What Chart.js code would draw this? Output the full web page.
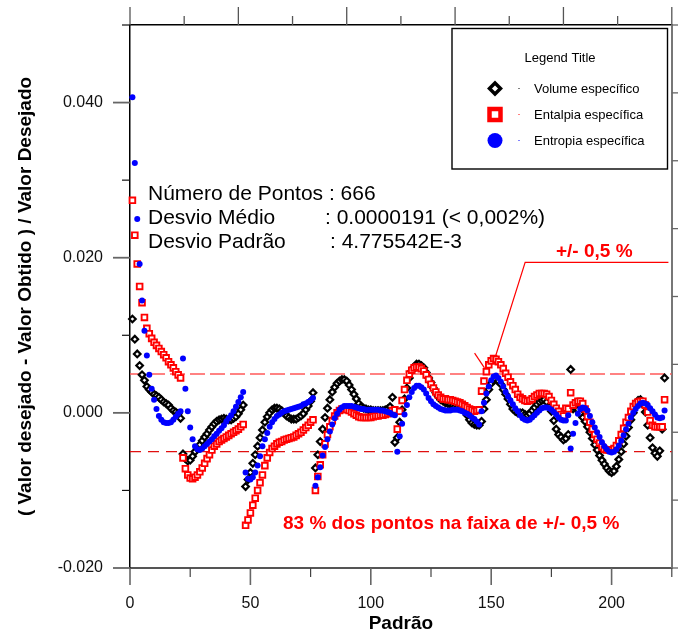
<!DOCTYPE html>
<html>
<head>
<meta charset="utf-8">
<title>Desvio relativo por padrão</title>
<script src="https://cdn.jsdelivr.net/npm/chart.js@4.4.0/dist/chart.umd.min.js"></script>
<style>
  html, body { margin: 0; padding: 0; background: #ffffff; }
  #wrap { width: 678px; height: 637px; position: relative; }
</style>
</head>
<body>
<div id="wrap"><canvas id="desvioChart"></canvas></div>
<script>
// Tick values for the axes
const padraoTicks = [0, 50, 100, 150, 200];
const padraoMinorTicks = [25, 75, 125, 175, 225];
const desvioTicks = [-0.02, 0, 0.02, 0.04];
const desvioMinorTicks = [-0.01, 0.01, 0.03, 0.05];
const topoTicks = [0, 1, 2, 3, 4, 5, 6, 7, 8, 9, 10];
const direitaTicks = [0, 1, 2, 3, 4, 5, 6, 7, 8];

// +/- 0,5 % band
const faixaX = [0, 225];
const faixaSup = 0.005;
const faixaInf = -0.005;

// Deviation per point (Padrão 1..222)
const volume = [
  0.0121, 0.0095, 0.0076, 0.0061, 0.0049, 0.0042, 0.0034, 0.0030, 0.0027, 0.0024,
  0.0022, 0.0020, 0.0017, 0.0014, 0.0012, 0.0010, 0.0006, 0.0003, 0.0001, -0.0001,
  -0.0007, -0.0053, -0.0059, -0.0062, -0.0061, -0.0056, -0.0050, -0.0046, -0.0041, -0.0036,
  -0.0031, -0.0027, -0.0022, -0.0018, -0.0014, -0.0011, -0.0009, -0.0008, -0.0007, -0.0008,
  -0.0009, -0.0009, -0.0007, -0.0005, -0.0001, 0.0004, 0.0010, -0.0095, -0.0086, -0.0077,
  -0.0065, -0.0054, -0.0043, -0.0032, -0.0022, -0.0012, -0.0005, 0.0000, 0.0004, 0.0006,
  0.0006, 0.0005, 0.0003, 0.0000, -0.0004, -0.0006, -0.0008, -0.0008, -0.0008, -0.0006,
  -0.0004, -0.0001, 0.0004, 0.0009, 0.0015, 0.0026, -0.0071, -0.0054, -0.0037, -0.0021,
  -0.0006, 0.0006, 0.0017, 0.0027, 0.0033, 0.0038, 0.0041, 0.0043, 0.0043, 0.0041,
  0.0036, 0.0030, 0.0024, 0.0018, 0.0012, 0.0008, 0.0006, 0.0005, 0.0004, 0.0004,
  0.0003, 0.0003, 0.0003, 0.0003, 0.0003, 0.0004, 0.0005, 0.0008, 0.0020, -0.0038,
  -0.0032, -0.0012, 0.0004, 0.0018, 0.0032, 0.0045, 0.0054, 0.0059, 0.0063, 0.0063,
  0.0061, 0.0058, 0.0052, 0.0045, 0.0039, 0.0032, 0.0026, 0.0021, 0.0017, 0.0015,
  0.0013, 0.0012, 0.0011, 0.0009, 0.0008, 0.0007, 0.0006, 0.0005, 0.0002, -0.0003,
  -0.0009, -0.0013, -0.0015, -0.0016, -0.0016, -0.0011, 0.0005, 0.0017, 0.0030, 0.0038,
  0.0042, 0.0043, 0.0041, 0.0037, 0.0030, 0.0024, 0.0018, 0.0011, 0.0005, 0.0002,
  0.0000, 0.0000, 0.0000, -0.0002, -0.0003, -0.0001, 0.0003, 0.0007, 0.0011, 0.0014,
  0.0016, 0.0017, 0.0014, 0.0008, 0.0002, -0.0010, -0.0021, -0.0028, -0.0031, -0.0035,
  -0.0033, -0.0028, 0.0056, 0.0005, 0.0006, 0.0004, -0.0001, -0.0006, -0.0011, -0.0018,
  -0.0025, -0.0033, -0.0041, -0.0048, -0.0055, -0.0061, -0.0066, -0.0071, -0.0075, -0.0077,
  -0.0075, -0.0069, -0.0060, -0.0050, -0.0040, -0.0030, -0.0019, -0.0009, 0.0000, 0.0009,
  0.0016, 0.0017, 0.0011, 0.0001, -0.0016, -0.0032, -0.0045, -0.0052, -0.0056, -0.0049,
  -0.0021, 0.0045
];

const entalpia = [
  0.0274, 0.0229, 0.0192, 0.0163, 0.0142, 0.0123, 0.0109, 0.0102, 0.0096, 0.0091,
  0.0087, 0.0083, 0.0079, 0.0075, 0.0071, 0.0066, 0.0062, 0.0058, 0.0053, 0.0049,
  0.0045, -0.0058, -0.0072, -0.0080, -0.0084, -0.0085, -0.0083, -0.0080, -0.0076, -0.0071,
  -0.0065, -0.0059, -0.0054, -0.0048, -0.0043, -0.0040, -0.0037, -0.0035, -0.0033, -0.0031,
  -0.0029, -0.0027, -0.0025, -0.0023, -0.0021, -0.0018, -0.0015, -0.0145, -0.0138, -0.0129,
  -0.0119, -0.0110, -0.0100, -0.0090, -0.0080, -0.0068, -0.0058, -0.0051, -0.0046, -0.0043,
  -0.0040, -0.0038, -0.0037, -0.0035, -0.0034, -0.0033, -0.0032, -0.0031, -0.0029, -0.0027,
  -0.0025, -0.0022, -0.0019, -0.0016, -0.0012, -0.0009, -0.0100, -0.0082, -0.0067, -0.0054,
  -0.0040, -0.0028, -0.0018, -0.0010, -0.0004, 0.0000, 0.0003, 0.0005, 0.0005, 0.0004,
  0.0003, 0.0001, -0.0001, -0.0003, -0.0005, -0.0006, -0.0006, -0.0006, -0.0006, -0.0006,
  -0.0005, -0.0004, -0.0004, -0.0003, -0.0003, -0.0002, -0.0001, 0.0000, 0.0003, 0.0004,
  -0.0021, 0.0002, 0.0016, 0.0030, 0.0042, 0.0050, 0.0055, 0.0058, 0.0059, 0.0059,
  0.0057, 0.0054, 0.0049, 0.0043, 0.0037, 0.0032, 0.0027, 0.0023, 0.0020, 0.0018,
  0.0018, 0.0017, 0.0017, 0.0016, 0.0015, 0.0014, 0.0013, 0.0011, 0.0009, 0.0007,
  0.0005, 0.0004, 0.0002, 0.0003, 0.0004, 0.0028, 0.0041, 0.0053, 0.0062, 0.0067,
  0.0070, 0.0069, 0.0066, 0.0062, 0.0057, 0.0051, 0.0046, 0.0040, 0.0035, 0.0030,
  0.0024, 0.0020, 0.0018, 0.0016, 0.0015, 0.0016, 0.0018, 0.0021, 0.0023, 0.0025,
  0.0025, 0.0025, 0.0024, 0.0021, 0.0016, 0.0011, 0.0006, 0.0002, -0.0002, -0.0004,
  0.0006, 0.0005, 0.0026, 0.0010, 0.0013, 0.0015, 0.0015, 0.0012, 0.0005, -0.0005,
  -0.0012, -0.0021, -0.0028, -0.0034, -0.0039, -0.0044, -0.0047, -0.0048, -0.0048, -0.0048,
  -0.0046, -0.0042, -0.0036, -0.0028, -0.0020, -0.0012, -0.0006, 0.0002, 0.0008, 0.0012,
  0.0014, 0.0015, 0.0015, 0.0010, 0.0001, -0.0010, -0.0016, -0.0018, -0.0018, -0.0018,
  -0.0018, 0.0017
];

const entropia = [
  0.0407, 0.0322, 0.0250, 0.0192, 0.0145, 0.0106, 0.0074, 0.0049, 0.0031, 0.0017,
  0.0005, -0.0004, -0.0009, -0.0012, -0.0013, -0.0013, -0.0012, -0.0009, -0.0005, -0.0001,
  0.0002, 0.0070, 0.0031, 0.0002, -0.0019, -0.0034, -0.0043, -0.0047, -0.0048, -0.0046,
  -0.0043, -0.0040, -0.0037, -0.0034, -0.0030, -0.0027, -0.0023, -0.0020, -0.0016, -0.0011,
  -0.0007, -0.0003, 0.0002, 0.0008, 0.0014, 0.0020, 0.0027, -0.0077, -0.0085, -0.0086,
  -0.0083, -0.0077, -0.0068, -0.0056, -0.0043, -0.0034, -0.0026, -0.0018, -0.0012, -0.0008,
  -0.0004, -0.0002, 0.0000, 0.0002, 0.0003, 0.0004, 0.0005, 0.0006, 0.0007, 0.0008,
  0.0009, 0.0011, 0.0012, 0.0014, 0.0016, 0.0019, -0.0094, -0.0083, -0.0070, -0.0055,
  -0.0044, -0.0034, -0.0024, -0.0015, -0.0007, -0.0001, 0.0004, 0.0007, 0.0009, 0.0009,
  0.0009, 0.0009, 0.0008, 0.0007, 0.0006, 0.0005, 0.0005, 0.0004, 0.0004, 0.0004,
  0.0004, 0.0004, 0.0004, 0.0003, 0.0003, 0.0002, 0.0001, 0.0000, -0.0002, -0.0003,
  -0.0050, -0.0030, -0.0014, -0.0002, 0.0010, 0.0020, 0.0027, 0.0032, 0.0035, 0.0035,
  0.0033, 0.0030, 0.0025, 0.0019, 0.0015, 0.0011, 0.0009, 0.0007, 0.0005, 0.0004,
  0.0003, 0.0003, 0.0003, 0.0004, 0.0004, 0.0004, 0.0003, 0.0002, 0.0000, -0.0001,
  -0.0003, -0.0006, -0.0008, -0.0011, -0.0015, 0.0002, 0.0013, 0.0025, 0.0034, 0.0042,
  0.0047, 0.0048, 0.0045, 0.0040, 0.0034, 0.0027, 0.0021, 0.0016, 0.0011, 0.0006,
  0.0002, -0.0003, -0.0007, -0.0009, -0.0010, -0.0009, -0.0006, -0.0003, 0.0000, 0.0003,
  0.0006, 0.0007, 0.0007, 0.0006, 0.0004, 0.0001, -0.0002, -0.0006, -0.0009, -0.0010,
  -0.0010, -0.0003, -0.0046, -0.0027, -0.0013, -0.0001, 0.0005, 0.0007, 0.0006, 0.0003,
  -0.0004, -0.0012, -0.0019, -0.0025, -0.0031, -0.0038, -0.0043, -0.0047, -0.0050, -0.0051,
  -0.0050, -0.0047, -0.0042, -0.0036, -0.0029, -0.0021, -0.0014, -0.0006, 0.0000, 0.0005,
  0.0009, 0.0012, 0.0013, 0.0012, 0.0010, 0.0006, 0.0002, -0.0002, -0.0006, -0.0007,
  -0.0006, 0.0003
];

const FONT = '"Liberation Sans", Arial, Helvetica, sans-serif';

function toPoints(values) {
  return values.map(function(v, i) { return { x: i + 1, y: v }; });
}

function bandLine(yValue) {
  return faixaX.map(function(x) { return { x: x, y: yValue }; });
}

// fixed box sizes so the plot area lands where the original has it
function fixBox(size) {
  return function(s) {
    if (s.isHorizontal()) s.height = size; else s.width = size;
    s.paddingTop = 0;
    s.paddingBottom = 0;
    s.paddingLeft = 0;
    s.paddingRight = 0;
  };
}

// Tick marks drawn by hand so major/minor lengths can differ
const tickMarks = {
  id: 'tickMarks',
  afterDraw(chart) {
    const { ctx, chartArea: a, scales } = chart;
    function seg(x1, y1, x2, y2, color, w) {
      ctx.beginPath();
      ctx.strokeStyle = color;
      ctx.lineWidth = w;
      ctx.moveTo(x1, y1);
      ctx.lineTo(x2, y2);
      ctx.stroke();
    }
    ctx.save();
    padraoTicks.forEach(function(v) {
      const px = scales.x.getPixelForValue(v);
      seg(px, a.bottom, px, a.bottom + 17, '#666', 1.6);
    });
    padraoMinorTicks.forEach(function(v) {
      const px = scales.x.getPixelForValue(v);
      seg(px, a.bottom, px, a.bottom + 9, '#444', 1.2);
    });
    desvioTicks.forEach(function(v) {
      const py = scales.y.getPixelForValue(v);
      seg(a.left - 17, py, a.left, py, '#666', 1.8);
    });
    desvioMinorTicks.forEach(function(v) {
      const py = scales.y.getPixelForValue(v);
      seg(a.left - 8, py, a.left, py, '#111', 1.2);
    });
    topoTicks.forEach(function(v) {
      const px = scales.x2.getPixelForValue(v);
      const len = v % 2 === 0 ? 18 : 9;
      seg(px, a.top, px, a.top - len, '#555', 1.3);
    });
    direitaTicks.forEach(function(v) {
      const py = scales.y2.getPixelForValue(v);
      seg(a.right, py, a.right + 7, py, '#666', 1.3);
    });
    ctx.restore();
  }
};

// Legend box, statistics text and the red notes
const notes = {
  id: 'notes',
  afterDraw(chart) {
    const { ctx, scales } = chart;
    ctx.save();

    // statistics
    ctx.fillStyle = '#000';
    ctx.font = '21px ' + FONT;
    ctx.textBaseline = 'alphabetic';
    ctx.textAlign = 'left';
    ctx.fillText('Número de Pontos : 666', 148, 200);
    ctx.fillText('Desvio Médio', 148, 224);
    ctx.fillText(': 0.0000191 (< 0,002%)', 325, 224);
    ctx.fillText('Desvio Padrão', 148, 248);
    ctx.fillText(': 4.775542E-3', 330, 248);

    // red notes
    ctx.fillStyle = '#ff0000';
    ctx.font = 'bold 19px ' + FONT;
    ctx.fillText('+/- 0,5 %', 556, 256.5);
    ctx.fillText('83 % dos pontos na faixa de +/- 0,5 %', 283, 528.5);

    // pointer from the note to the band
    const px = function(v) { return scales.x.getPixelForValue(v); };
    const py = function(v) { return scales.y.getPixelForValue(v); };
    ctx.strokeStyle = '#ff0000';
    ctx.lineWidth = 1.2;
    ctx.beginPath();
    ctx.moveTo(px(223.6), py(0.0194));
    ctx.lineTo(px(164.1), py(0.0194));
    ctx.lineTo(px(151.8), py(0.0073));
    ctx.stroke();
    ctx.beginPath();
    ctx.moveTo(px(143.1), py(0.0077));
    ctx.lineTo(px(147.2), py(0.0058));
    ctx.stroke();

    // legend
    const lx = 452, ly = 28.5, lw = 215.5, lh = 140.5;
    ctx.fillStyle = '#fff';
    ctx.fillRect(lx, ly, lw, lh);
    ctx.strokeStyle = '#000';
    ctx.lineWidth = 1.4;
    ctx.strokeRect(lx, ly, lw, lh);
    ctx.fillStyle = '#000';
    ctx.font = '13px ' + FONT;
    ctx.textAlign = 'center';
    ctx.fillText('Legend Title', 560, 62);
    ctx.textAlign = 'left';

    const rows = [
      { text: 'Volume específico', color: '#000000', y: 88.5 },
      { text: 'Entalpia específica', color: '#ff0000', y: 114.5 },
      { text: 'Entropia específica', color: '#0000ff', y: 140.5 }
    ];
    rows.forEach(function(r, i) {
      const mx = 495;
      ctx.beginPath();
      if (i === 0) {
        ctx.moveTo(mx - 5.5, r.y);
        ctx.lineTo(mx, r.y - 5.5);
        ctx.lineTo(mx + 5.5, r.y);
        ctx.lineTo(mx, r.y + 5.5);
        ctx.closePath();
        ctx.fillStyle = '#fff';
        ctx.fill();
        ctx.strokeStyle = r.color;
        ctx.lineWidth = 3.5;
        ctx.stroke();
      } else if (i === 1) {
        ctx.rect(mx - 5.5, r.y - 5.5, 11, 11);
        ctx.fillStyle = '#fff';
        ctx.fill();
        ctx.strokeStyle = r.color;
        ctx.lineWidth = 4.5;
        ctx.stroke();
      } else {
        ctx.arc(mx, r.y, 7.5, 0, Math.PI * 2);
        ctx.fillStyle = r.color;
        ctx.fill();
      }
      ctx.fillStyle = r.color;
      ctx.fillRect(518.5, r.y - 0.5, 1, 1);
      ctx.fillStyle = '#000';
      ctx.fillText(r.text, 534, r.y + 4.5);
    });

    ctx.restore();
  }
};

const ctx = document.getElementById('desvioChart');

new Chart(ctx, {
  type: 'scatter',
  data: {
    datasets: [
      {
        label: 'Volume específico',
        data: toPoints(volume),
        pointStyle: 'rectRot',
        pointRadius: 3.3,
        pointBorderWidth: 2.2,
        borderColor: '#000000',
        backgroundColor: '#ffffff',
        order: 3,
        clip: false
      },
      {
        label: 'Entalpia específica',
        data: toPoints(entalpia),
        pointStyle: 'rect',
        pointRadius: 4.0,
        pointBorderWidth: 1.9,
        borderColor: '#ff0000',
        backgroundColor: '#ffffff',
        order: 2,
        clip: false
      },
      {
        label: 'Entropia específica',
        data: toPoints(entropia),
        pointStyle: 'circle',
        pointRadius: 3,
        pointBorderWidth: 0,
        borderColor: '#0000ff',
        backgroundColor: '#0000ff',
        order: 1,
        clip: false
      },
      {
        label: '+0,5 %',
        type: 'line',
        data: bandLine(faixaSup),
        borderColor: '#ff5a5a',
        borderWidth: 1.5,
        borderDash: [15, 5],
        pointRadius: 0,
        order: 4
      },
      {
        label: '-0,5 %',
        type: 'line',
        data: bandLine(faixaInf),
        borderColor: '#e01010',
        borderWidth: 1.2,
        borderDash: [11, 7],
        pointRadius: 0,
        order: 5
      }
    ]
  },
  options: {
    responsive: true,
    maintainAspectRatio: false,
    animation: false,
    events: [],
    layout: { padding: 0 },
    plugins: {
      legend: { display: false },
      tooltip: { enabled: false }
    },
    scales: {
      x: {
        type: 'linear',
        position: 'bottom',
        min: 0,
        max: 225,
        afterBuildTicks: function(s) { s.ticks = padraoTicks.map(function(v) { return { value: v }; }); },
        afterFit: fixBox(69),
        grid: { drawOnChartArea: false, drawTicks: false },
        border: { display: true, color: '#555', width: 2 },
        ticks: {
          padding: 26,
          color: '#111',
          font: { family: FONT, size: 16 },
          maxRotation: 0,
          autoSkip: false
        },
        title: {
          display: true,
          text: 'Padrão',
          color: '#000',
          font: { family: FONT, size: 19, weight: 'bold' },
          padding: { top: 0, bottom: 1.5 }
        }
      },
      y: {
        type: 'linear',
        position: 'left',
        min: -0.02,
        max: 0.05,
        afterBuildTicks: function(s) { s.ticks = desvioTicks.map(function(v) { return { value: v }; }); },
        afterFit: fixBox(130),
        grid: { drawOnChartArea: false, drawTicks: false },
        border: { display: true, color: '#000', width: 1.5 },
        ticks: {
          padding: 27,
          color: '#111',
          font: { family: FONT, size: 16 },
          callback: function(value) { return Math.abs(value) < 1e-9 ? '0.000' : Number(value).toFixed(3); }
        },
        title: {
          display: true,
          text: '( Valor desejado - Valor Obtido ) / Valor Desejado',
          color: '#000',
          font: { family: FONT, size: 19, weight: 'bold' },
          padding: { top: 14.5, bottom: 0 }
        }
      },
      x2: {
        type: 'linear',
        position: 'top',
        min: 0,
        max: 10,
        afterFit: fixBox(25),
        grid: { drawOnChartArea: false, drawTicks: false },
        border: { display: true, color: '#000', width: 1.5 },
        ticks: { display: false }
      },
      y2: {
        type: 'linear',
        position: 'right',
        min: 0,
        max: 8,
        afterFit: fixBox(6),
        grid: { drawOnChartArea: false, drawTicks: false },
        border: { display: true, color: '#777', width: 2 },
        ticks: { display: false }
      }
    }
  },
  plugins: [tickMarks, notes]
});
</script>
</body>
</html>
